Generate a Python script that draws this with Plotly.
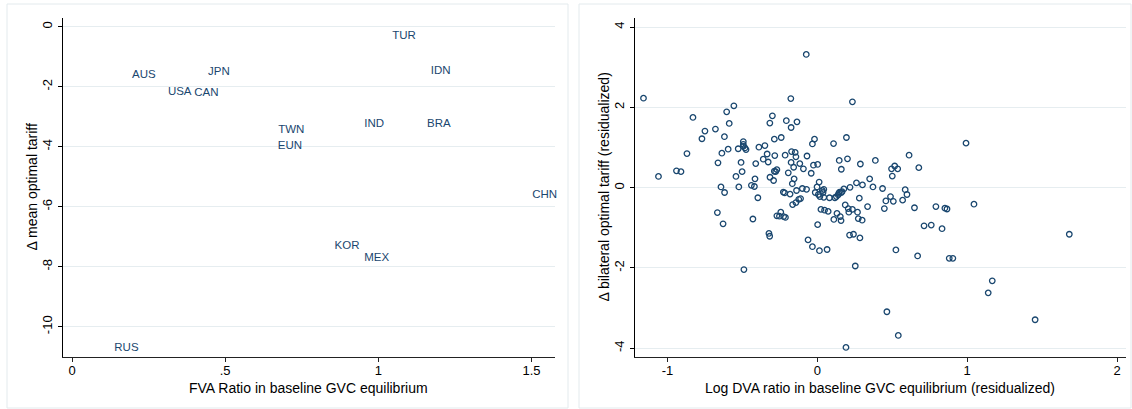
import plotly.graph_objects as go

# ---------------- Left panel data ----------------
countries = ["TUR", "AUS", "JPN", "IDN", "USA", "CAN", "TWN", "EUN",
             "IND", "BRA", "CHN", "KOR", "MEX", "RUS"]
fva_ratio = [1.045, 0.196, 0.444, 1.171, 0.313, 0.399, 0.673, 0.672,
             0.954, 1.159, 1.502, 0.857, 0.954, 0.138]
d_mean_tariff = [-0.33, -1.61, -1.50, -1.48, -2.17, -2.20, -3.44, -3.98,
                 -3.24, -3.24, -5.61, -7.31, -7.73, -10.70]

left_xticks = [0, 0.5, 1, 1.5]
left_xtext = ["0", ".5", "1", "1.5"]
left_yticks = [0, -2, -4, -6, -8, -10]
left_ytext = ["0", "-2", "-4", "-6", "-8", "-10"]

# ---------------- Right panel data ----------------
log_dva = [-1.16, -1.06, -0.94, -0.91, -0.87, -0.83, -0.77, -0.75, -0.68, -0.62,
           -0.605, -0.557, -0.588, -0.637, -0.595, -0.663, -0.643, -0.619, -0.667, -0.629,
           -0.543, -0.524, -0.528, -0.509, -0.502, -0.494, -0.494, -0.494, -0.476, -0.483,
           -0.490, -0.440, -0.420, -0.416, -0.411, -0.430, -0.397, -0.390, -0.350, -0.361,
           -0.335, -0.328, -0.316, -0.317, -0.300, -0.287, -0.292, -0.284, -0.287, -0.278,
           -0.270, -0.323, -0.318, -0.270, -0.253, -0.244, -0.225, -0.213, -0.241, -0.207,
           -0.227, -0.218, -0.215, -0.194, -0.182, -0.177, -0.175, -0.175, -0.172, -0.167,
           -0.165, -0.158, -0.155, -0.148, -0.143, -0.143, -0.139, -0.136, -0.124, -0.117,
           -0.112, -0.100, -0.093, -0.072, -0.069, -0.074, -0.062, -0.041, -0.033, -0.033,
           -0.026, -0.019, 0.002, -0.014, -0.002, 0.002, 0.012, 0.007, 0.014, 0.017,
           0.024, 0.033, 0.038, 0.043, 0.043, 0.048, 0.065, 0.072, 0.081, 0.108,
           0.110, 0.117, 0.127, 0.131, 0.139, 0.143, 0.146, 0.148, 0.153, 0.158,
           0.160, 0.160, 0.165, 0.177, 0.186, 0.194, 0.201, 0.206, 0.210, 0.215,
           0.218, 0.234, 0.234, 0.241, 0.253, 0.261, 0.268, 0.273, 0.280, 0.284,
           0.287, 0.299, 0.301, 0.335, 0.349, 0.371, 0.387, 0.435, 0.447, 0.457,
           0.464, 0.488, 0.495, 0.500, 0.507, 0.516, 0.524, 0.536, 0.540, 0.569,
           0.586, 0.598, 0.612, 0.648, 0.669, 0.677, 0.712, 0.760, 0.791, 0.832,
           0.851, 0.865, 0.880, 0.904, 0.992, 1.045, 1.140, 1.167, 1.453, 1.681,
           0.191]
d_bilateral_tariff = [2.23, 0.28, 0.42, 0.40, 0.85, 1.75, 1.22, 1.41, 1.46, 1.27,
                      1.89, 2.04, 1.60, 0.86, 0.96, 0.62, 0.02, -0.12, -0.62, -0.90,
                      0.28, 0.02, 0.97, 0.63, 0.40, 1.15, 1.08, 1.03, 0.95, 0.99,
                      -2.04, 0.06, 0.03, 0.22, 0.60, -0.78, -0.25, 1.01, 1.05, 0.71,
                      0.84, 0.64, 0.26, 1.61, 1.79, 1.21, 0.18, 0.80, 0.41, 0.40,
                      0.45, -1.14, -1.21, -0.70, -0.71, -0.61, -0.72, -0.74, 1.25, 1.67,
                      -0.11, -0.13, 0.81, 0.37, -0.16, 2.22, 1.50, 0.63, 0.90, 0.10,
                      -0.42, 0.51, 0.22, 0.88, 0.77, -0.37, -0.07, 1.64, -0.29, 0.60,
                      -0.27, -0.02, 0.47, -0.04, 0.79, 3.32, -1.30, 0.36, 1.09, -1.47,
                      0.56, 1.21, 0.58, -0.12, 0.02, -0.92, 0.14, -0.17, -1.57, -0.22,
                      -0.54, -0.07, -0.12, -0.04, -0.24, -0.56, -1.54, -0.59, -0.25, 1.10,
                      -0.79, -0.25, -0.22, -0.64, -0.18, -0.14, 0.68, -0.11, -0.72, -0.82,
                      0.46, -0.12, -0.10, -0.03, -0.43, 1.25, 0.72, -0.52, -0.61, -1.18,
                      0.01, 2.14, -0.54, -1.16, -1.95, 0.12, -0.61, -0.77, -0.26, -1.25,
                      0.59, -0.81, 0.07, -0.47, 0.22, 0.02, 0.68, -0.02, -0.52, -0.33,
                      -3.09, -0.22, 0.47, 0.29, -0.34, 0.54, -1.55, 0.47, -3.68, -0.31,
                      -0.05, -0.17, 0.81, -0.50, -1.70, 0.50, -0.95, -0.93, -0.47, -1.02,
                      -0.51, -0.53, -1.76, -1.76, 1.11, -0.41, -2.62, -2.32, -3.29, -1.16,
                      -3.98]

right_xticks = [-1, 0, 1, 2]
right_xtext = ["-1", "0", "1", "2"]
right_yticks = [-4, -2, 0, 2, 4]
right_ytext = ["-4", "-2", "0", "2", "4"]

NAVY = "#1a476f"
GRID = "#e6edf0"
FONT = "Liberation Sans, Arial, sans-serif"
W, H = 1132, 409

fig = go.Figure()

fig.add_trace(go.Scatter(
    x=fva_ratio, y=d_mean_tariff, text=countries, mode="text",
    textposition="middle right",
    textfont=dict(family=FONT, size=11.5, color=NAVY),
    xaxis="x", yaxis="y", showlegend=False, cliponaxis=False,
    hoverinfo="skip"))

fig.add_trace(go.Scatter(
    x=log_dva, y=d_bilateral_tariff, mode="markers",
    marker=dict(symbol="circle-open", size=5.5, color=NAVY,
                line=dict(width=1.3, color=NAVY)),
    xaxis="x2", yaxis="y2", showlegend=False))

def px_x(p):
    return p / W

def px_y(p):
    return 1 - p / H

ydom = [px_y(356.7), px_y(18.3)]

common_x = dict(showgrid=False, zeroline=False, showline=True, linecolor="#222222",
                linewidth=1, ticks="outside", ticklen=4, tickcolor="#222222",
                tickfont=dict(family=FONT, size=13, color="#000000"),
                automargin=False, fixedrange=True)
common_y = dict(showgrid=True, gridcolor=GRID, gridwidth=1, zeroline=False,
                showline=True, linecolor="#000000", linewidth=1,
                ticks="outside", ticklen=4, tickcolor="#000000", tickangle=-90,
                tickfont=dict(family=FONT, size=13, color="#000000"),
                automargin=False, fixedrange=True)

fig.update_layout(
    width=W, height=H,
    margin=dict(l=0, r=0, t=0, b=0),
    paper_bgcolor="white", plot_bgcolor="white",
    font=dict(family=FONT, size=13, color="#000000"),
    xaxis=dict(domain=[px_x(62.5), px_x(554.5)], range=[-0.031, 1.575],
               tickvals=left_xticks, ticktext=left_xtext, anchor="y", **common_x),
    yaxis=dict(domain=ydom, range=[-11.0, 0.28],
               tickvals=left_yticks, ticktext=left_ytext, anchor="x", **common_y),
    xaxis2=dict(domain=[px_x(634.5), px_x(1125.5)], range=[-1.22, 2.056],
                tickvals=right_xticks, ticktext=right_xtext, anchor="y2", **common_x),
    yaxis2=dict(domain=ydom, range=[-4.21, 4.22],
                tickvals=right_yticks, ticktext=right_ytext, anchor="x2", **common_y),
    shapes=[
        dict(type="rect", xref="paper", yref="paper",
             x0=px_x(7), x1=px_x(568), y0=px_y(408), y1=px_y(4),
             line=dict(color="#e3eaed", width=1), layer="below"),
        dict(type="rect", xref="paper", yref="paper",
             x0=px_x(579), x1=px_x(1131), y0=px_y(408), y1=px_y(4),
             line=dict(color="#e3eaed", width=1), layer="below"),
    ],
    annotations=[
        dict(text="FVA Ratio in baseline GVC equilibrium", xref="paper", yref="paper",
             x=px_x(308.5), y=px_y(387.5), xanchor="center", yanchor="middle",
             showarrow=False, font=dict(family=FONT, size=14, color="#000000")),
        dict(text="Δ mean optimal tariff", xref="paper", yref="paper",
             x=px_x(31), y=px_y(187.5), xanchor="center", yanchor="middle",
             textangle=-90, showarrow=False,
             font=dict(family=FONT, size=14, color="#000000")),
        dict(text="Log DVA ratio in baseline GVC equilibrium (residualized)",
             xref="paper", yref="paper",
             x=px_x(880), y=px_y(387.5), xanchor="center", yanchor="middle",
             showarrow=False, font=dict(family=FONT, size=14, color="#000000")),
        dict(text="Δ bilateral optimal tariff (residualized)", xref="paper", yref="paper",
             x=px_x(603), y=px_y(187.5), xanchor="center", yanchor="middle",
             textangle=-90, showarrow=False,
             font=dict(family=FONT, size=14, color="#000000")),
    ],
)

try:
    fig.update_xaxes(ticklabelstandoff=-2)
except Exception:
    pass

fig.write_html("out.html")
